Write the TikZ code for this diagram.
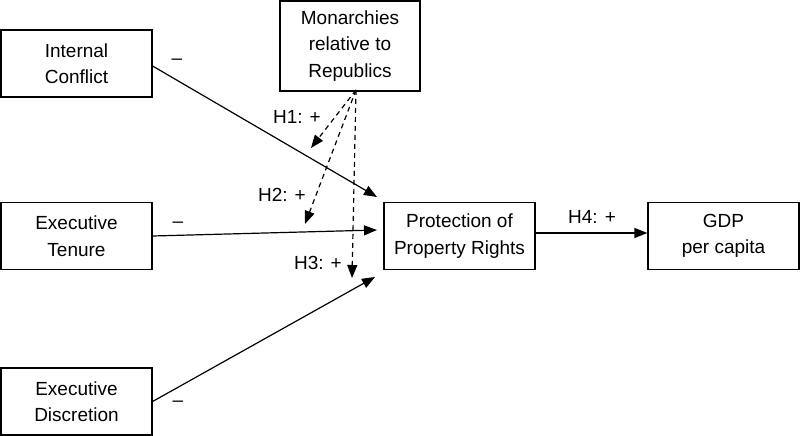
\documentclass[tikz,border=0pt]{standalone}
\usepackage{fontspec}
\setmainfont{Liberation Sans}
\usetikzlibrary{arrows.meta,calc}
\begin{document}
\begin{tikzpicture}[x=1pt,y=-1pt,
  box/.style={draw,line width=1.2pt,minimum height=67pt,inner sep=0pt,align=center,font=\fontsize{19}{26.5}\selectfont},
  lbl/.style={font=\fontsize{19}{22}\selectfont,inner sep=0pt},
  conn/.style={line width=1.2pt,-{Triangle[length=13pt,width=10pt]}},
  dconn/.style={conn,dash pattern=on 5pt off 4pt}]
\useasboundingbox (0,0) rectangle (800,436);
\node[box,minimum width=151pt] (ic) at (76.5,63.5) {Internal\\Conflict};
\node[box,minimum width=140pt,minimum height=90pt] (mon) at (350,46) {Monarchies\\relative to\\Republics};
\node[box,minimum width=151pt] (et) at (76.5,236) {Executive\\Tenure};
\node[box,minimum width=151pt] (ppr) at (459.5,236) {Protection of\\Property Rights};
\node[box,minimum width=151pt] (gdp) at (723.5,236) {GDP\\per capita};
\node[box,minimum width=151pt] (ed) at (76.5,401.5) {Executive\\Discretion};
\coordinate (t1) at (377,197);
\coordinate (t2) at (377,230);
\coordinate (t3) at (375,277);
\coordinate (m) at (356,90);
\coordinate (d1) at (311,148);
\coordinate (d2) at (305,224);
\coordinate (d3) at (352,278);
\draw[conn] (ic.east |- 0,66) -- (t1);
\draw[conn] (et.east) -- (t2);
\draw[conn] (ed.east) -- (t3);
\draw[conn] (ppr.east |- 0,233) -- (gdp.west |- 0,233);
\draw[dconn] (m) -- (d1);
\draw[dconn] (m) -- (d2);
\draw[dconn] (m) -- (d3);
\node[lbl] (m1) at (177,62) {--};
\node[lbl] (m2) at (178,225) {--};
\node[lbl] (m3) at (178,404) {--};
\node[lbl] (h1) at (297,117) {H1: +};
\node[lbl] (h2) at (282,195) {H2: +};
\node[lbl] (h3) at (318,263) {H3: +};
\node[lbl] (h4) at (592,217) {H4: +};
\end{tikzpicture}
\end{document}
